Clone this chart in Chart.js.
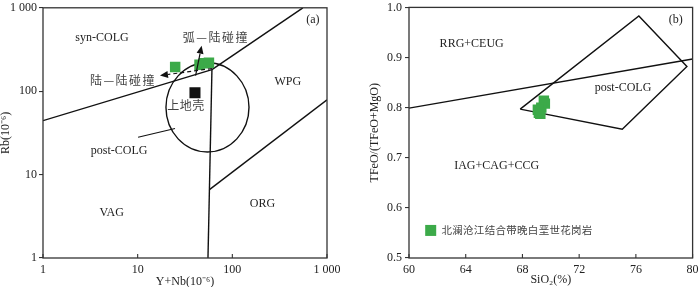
<!DOCTYPE html>
<html>
<head>
<meta charset="utf-8">
<script src="https://cdn.jsdelivr.net/npm/chart.js@4.4.1/dist/chart.umd.min.js"></script>
<style>
html, body { margin: 0; padding: 0; background: #fff; }
#wrap { position: relative; width: 700px; height: 287px; overflow: hidden; }
#c1 { position: absolute; left: 0; top: 0; }
#c2 { position: absolute; left: 340px; top: 0; }
</style>
</head>
<body>
<div id="wrap">
  <canvas id="c1" width="345" height="287"></canvas>
  <canvas id="c2" width="360" height="287"></canvas>
</div>
<script>
// ---- panel (a): Rb vs Y+Nb ----
var aTicks = [1, 10, 100, 1000];
var aTickLabels = ['1', '10', '100', '1 000'];
var graniteYNb = [24.9, 45, 50.1, 56.6];
var graniteRb = [195, 208, 216, 219];
var crustYNb = [40.3];
var crustRb = [96];
var lineVagSyn = [[1, 44.4], [60.9, 181.6]];
var lineSynWpg = [[60.9, 181.6], [556, 1000]];
var lineVagOrg = [[60.9, 181.6], [55.3, 1]];
var lineWpgOrg = [[57.3, 6.6], [1000, 78.7]];
var leaderPost = [[10.1, 28], [24.8, 35.7]];
var postEllipse = { left: 19.9, right: 150, top: 219, bottom: 18.7 };
var arcArrow = [[40.9, 154], [47.4, 351]];
var contArrow = [[60.9, 187], [17.2, 154]];

// ---- panel (b): TFeO/(TFeO+MgO) vs SiO2 ----
var bXTicks = [60, 64, 68, 72, 76, 80];
var bYTicks = [0.5, 0.6, 0.7, 0.8, 0.9, 1.0];
var bYTickLabels = ['0.5', '0.6', '0.7', '0.8', '0.9', '1.0'];
var graniteSiO2 = [69.51, 69.58, 69.33, 69.09, 69.16, 69.26];
var graniteFeMg = [0.814, 0.808, 0.800, 0.796, 0.790, 0.788];
var lineRrgIag = [[60, 0.799], [80, 0.897]];
var postColgBox = [[67.84, 0.797], [76.21, 0.983], [79.6, 0.882], [75.04, 0.757], [67.84, 0.797]];

var GREEN = '#3caa49';
var SERIF = '"Liberation Serif", "Times New Roman", serif';
var CJK = '"Noto Sans CJK SC", sans-serif';

Chart.defaults.font.family = SERIF;
Chart.defaults.font.size = 12;
Chart.defaults.color = '#222';

function pts(arr) {
  return arr.map(function (p) { return { x: p[0], y: p[1] }; });
}
function zip(xs, ys) {
  return xs.map(function (x, i) { return { x: x, y: ys[i] }; });
}
function boundary(arr) {
  return { data: pts(arr), showLine: true, pointRadius: 0, borderColor: '#111', borderWidth: 1.4, fill: false };
}

function drawArrow(ctx, x1, y1, x2, y2, dashed) {
  var ang = Math.atan2(y2 - y1, x2 - x1), hl = 8, hw = 3.5;
  var bx = x2 - hl * Math.cos(ang), by = y2 - hl * Math.sin(ang);
  ctx.beginPath();
  ctx.setLineDash(dashed ? [4, 3] : []);
  ctx.moveTo(x1, y1); ctx.lineTo(bx, by); ctx.stroke();
  ctx.setLineDash([]);
  ctx.beginPath();
  ctx.moveTo(x2, y2);
  ctx.lineTo(bx + hw * Math.sin(ang), by - hw * Math.cos(ang));
  ctx.lineTo(bx - hw * Math.sin(ang), by + hw * Math.cos(ang));
  ctx.closePath(); ctx.fill();
}

function decoPlugin(cfg) {
  return {
    id: 'deco',
    beforeDatasetsDraw: function (chart) {
      var ctx = chart.ctx, xs = chart.scales.x, ys = chart.scales.y;
      if (cfg.ellipse) {
        var e = cfg.ellipse;
        var l = xs.getPixelForValue(e.left), r = xs.getPixelForValue(e.right);
        var t = ys.getPixelForValue(e.top), b = ys.getPixelForValue(e.bottom);
        ctx.save();
        ctx.beginPath();
        ctx.ellipse((l + r) / 2, (t + b) / 2, (r - l) / 2, (b - t) / 2, 0, 0, Math.PI * 2);
        ctx.strokeStyle = '#111'; ctx.lineWidth = 1.4; ctx.stroke();
        ctx.restore();
      }
    },
    afterDatasetsDraw: function (chart) {
      var ctx = chart.ctx, xs = chart.scales.x, ys = chart.scales.y;
      ctx.save();
      ctx.strokeStyle = '#111'; ctx.fillStyle = '#111'; ctx.lineWidth = 1.2;
      (cfg.arrows || []).forEach(function (a) {
        drawArrow(ctx, xs.getPixelForValue(a.p[0][0]), ys.getPixelForValue(a.p[0][1]),
          xs.getPixelForValue(a.p[1][0]), ys.getPixelForValue(a.p[1][1]), a.dashed);
      });
      ctx.textBaseline = 'middle';
      (cfg.labels || []).forEach(function (l) {
        ctx.textAlign = l.align || 'center';
        ctx.font = l.cjk ? (l.size || 12) + 'px ' + CJK : '12px ' + SERIF;
        ctx.fillStyle = l.cjk ? '#444' : '#222';
        ctx.letterSpacing = l.spacing || '0px';
        ctx.fillText(l.t, xs.getPixelForValue(l.x), ys.getPixelForValue(l.y));
      });
      ctx.letterSpacing = '0px';
      if (cfg.legend) {
        var lg = cfg.legend;
        var sx = xs.getPixelForValue(lg.x), sy = ys.getPixelForValue(lg.y);
        ctx.fillStyle = GREEN;
        ctx.fillRect(sx - 5.5, sy - 5.5, 11, 11);
        ctx.fillStyle = '#444';
        ctx.textAlign = 'left';
        ctx.font = '10.5px ' + CJK;
        ctx.letterSpacing = '0.3px';
        ctx.fillText(lg.t, xs.getPixelForValue(lg.tx), sy);
        ctx.letterSpacing = '0px';
      }
      ctx.restore();
    },
    afterDraw: function (chart) {
      var ctx = chart.ctx, a = chart.chartArea, xs = chart.scales.x;
      ctx.save();
      ctx.strokeStyle = '#333'; ctx.lineWidth = 1.3;
      ctx.strokeRect(a.left, a.top, a.right - a.left, a.bottom - a.top);
      ctx.lineWidth = 1.1;
      xs.ticks.forEach(function (t) {
        var px = xs.getPixelForValue(t.value);
        ctx.beginPath(); ctx.moveTo(px, a.bottom); ctx.lineTo(px, a.bottom - 4); ctx.stroke();
      });
      ctx.restore();
    }
  };
}

function yAxis(extra) {
  var o = {
    grid: { display: true, drawOnChartArea: false, drawTicks: true, tickLength: 4, color: '#333', lineWidth: 1.1 },
    border: { display: false }
  };
  return Object.assign(o, extra);
}
function xAxis(extra) {
  var o = {
    grid: { display: false },
    border: { display: false }
  };
  return Object.assign(o, extra);
}

// ---- chart (a) ----
new Chart(document.getElementById('c1'), {
  type: 'scatter',
  data: {
    datasets: [
      { data: zip(graniteYNb, graniteRb), pointStyle: 'rect', pointRadius: 7.4, pointHoverRadius: 7.4, backgroundColor: GREEN, borderWidth: 0 },
      { data: zip(crustYNb, crustRb), pointStyle: 'rect', pointRadius: 7.8, pointHoverRadius: 7.8, backgroundColor: '#111', borderWidth: 0 },
      boundary(lineVagSyn), boundary(lineSynWpg), boundary(lineVagOrg), boundary(lineWpgOrg),
      Object.assign(boundary(leaderPost), { borderWidth: 1.1 })
    ]
  },
  options: {
    responsive: false, animation: false,
    layout: { padding: { left: 0, right: 18, top: 3, bottom: 0 } },
    plugins: { legend: { display: false }, tooltip: { enabled: false } },
    scales: {
      x: xAxis({
        type: 'logarithmic', min: 1, max: 1000,
        afterBuildTicks: function (s) { s.ticks = aTicks.map(function (v) { return { value: v }; }); },
        afterFit: function (s) { s.height = 29; s.paddingLeft = 0; s.paddingRight = 0; },
        ticks: { padding: -3, color: '#222', font: { size: 12 }, autoSkip: false, maxRotation: 0,
          callback: function (v, i) { return aTickLabels[i]; } },
        title: { display: true, text: 'Y+Nb(10⁻⁶)', color: '#222', font: { size: 12, lineHeight: 1 }, padding: { top: 0, bottom: -1 } }
      }),
      y: yAxis({
        type: 'logarithmic', min: 1, max: 1000,
        afterBuildTicks: function (s) { s.ticks = aTicks.map(function (v) { return { value: v }; }); },
        afterFit: function (s) { s.width = 43; s.paddingTop = 0; s.paddingBottom = 0; },
        ticks: { padding: 2, color: '#222', font: { size: 12 }, autoSkip: false,
          callback: function (v, i) { return aTickLabels[i]; } },
        title: { display: true, text: 'Rb(10⁻⁶)', color: '#222', font: { size: 12, lineHeight: 1 }, padding: { top: 0, bottom: 0 } }
      })
    }
  },
  plugins: [decoPlugin({
    ellipse: postEllipse,
    arrows: [{ p: arcArrow, dashed: false }, { p: contArrow, dashed: true }],
    labels: [
      { t: 'syn-COLG', x: 4.2, y: 431 },
      { t: 'WPG', x: 386, y: 131 },
      { t: 'post-COLG', x: 6.38, y: 19.5 },
      { t: 'VAG', x: 5.31, y: 3.51 },
      { t: 'ORG', x: 208, y: 4.44 },
      { t: '(a)', x: 710, y: 723 },
      { t: '弧—陆碰撞', x: 67, y: 444, cjk: true, spacing: '1.5px' },
      { t: '陆—陆碰撞', x: 7.0, y: 135, cjk: true, spacing: '1.5px' },
      { t: '上地壳', x: 32.4, y: 66.6, cjk: true, spacing: '0.5px' }
    ]
  })]
});

// ---- chart (b) ----
new Chart(document.getElementById('c2'), {
  type: 'scatter',
  data: {
    datasets: [
      { data: zip(graniteSiO2, graniteFeMg), pointStyle: 'rect', pointRadius: 7.4, pointHoverRadius: 7.4, backgroundColor: GREEN, borderWidth: 0 },
      boundary(lineRrgIag), boundary(postColgBox)
    ]
  },
  options: {
    responsive: false, animation: false,
    layout: { padding: { left: 0, right: 6, top: 3, bottom: 0 } },
    plugins: { legend: { display: false }, tooltip: { enabled: false } },
    scales: {
      x: xAxis({
        type: 'linear', min: 60, max: 80,
        afterBuildTicks: function (s) { s.ticks = bXTicks.map(function (v) { return { value: v }; }); },
        afterFit: function (s) { s.height = 29; s.paddingLeft = 0; s.paddingRight = 0; },
        ticks: { padding: -3, color: '#222', font: { size: 12 }, autoSkip: false, maxRotation: 0,
          callback: function (v, i) { return String(bXTicks[i]); } },
        title: { display: true, text: 'SiO₂(%)', color: '#222', font: { size: 12, lineHeight: 1 }, padding: { top: 0, bottom: 1 } }
      }),
      y: yAxis({
        type: 'linear', min: 0.5, max: 1.0,
        afterBuildTicks: function (s) { s.ticks = bYTicks.map(function (v) { return { value: v }; }); },
        afterFit: function (s) { s.width = 69; s.paddingTop = 0; s.paddingBottom = 0; },
        ticks: { padding: 3, color: '#222', font: { size: 12 }, autoSkip: false,
          callback: function (v, i) { return bYTickLabels[i]; } },
        title: { display: true, text: 'TFeO/(TFeO+MgO)', color: '#222', font: { size: 12, lineHeight: 1 }, padding: { top: 29, bottom: 0 } }
      })
    }
  },
  plugins: [decoPlugin({
    labels: [
      { t: 'RRG+CEUG', x: 64.42, y: 0.927 },
      { t: 'post-COLG', x: 75.09, y: 0.839 },
      { t: 'IAG+CAG+CCG', x: 66.18, y: 0.684 },
      { t: '(b)', x: 78.81, y: 0.975 }
    ],
    legend: { t: '北澜沧江结合带晚白垩世花岗岩', x: 61.53, y: 0.555, tx: 62.29 }
  })]
});
</script>
</body>
</html>
